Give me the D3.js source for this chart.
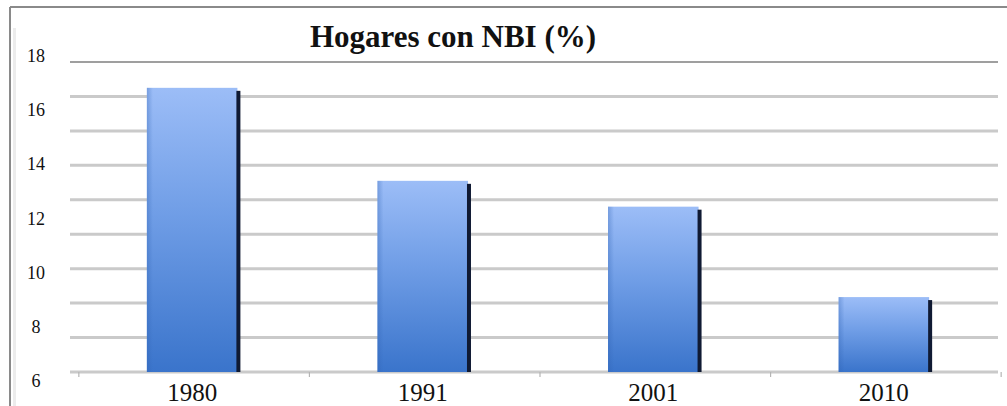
<!DOCTYPE html>
<html>
<head>
<meta charset="utf-8">
<script src="https://cdn.jsdelivr.net/npm/d3@7"></script>
<style>
  html, body { margin: 0; padding: 0; background: #fff; }
  svg { display: block; }
</style>
</head>
<body>
<svg id="chart" width="1007" height="406"></svg>
<script>
// Household share with unmet basic needs, by census year
const title = "Hogares con NBI (%)";
const categories = ["1980", "1991", "2001", "2010"];
const values = [17.0, 13.4, 12.4, 8.9];
const yTickLabels = [6, 8, 10, 12, 14, 16, 18];
const gridDivisions = 9;

const svg = d3.select("#chart");
const W = 1007, H = 406;
const plot = { left: 70, right: 998, top: 62, bottom: 372 };

const y = d3.scaleLinear().domain([6, 18]).range([plot.bottom, plot.top]);
const yLabel = y.copy().range([387, 62]);
const x = d3.scaleBand().domain(categories).range([80, 1000])
  .paddingInner(0.59).paddingOuter(0.29);

// gradient fill for the columns
const defs = svg.append("defs");
const grad = defs.append("linearGradient").attr("id", "barGrad")
  .attr("x1", 0).attr("y1", 0).attr("x2", 0).attr("y2", 1);
grad.append("stop").attr("offset", "0%").attr("stop-color", "#9cbdf7");
grad.append("stop").attr("offset", "45%").attr("stop-color", "#6f9de6");
grad.append("stop").attr("offset", "100%").attr("stop-color", "#3a74cb");
const edge = defs.append("linearGradient").attr("id", "leftEdge")
  .attr("x1", 0).attr("y1", 0).attr("x2", 1).attr("y2", 0);
edge.append("stop").attr("offset", "0%").attr("stop-color", "#2f62b3").attr("stop-opacity", 0.35);
edge.append("stop").attr("offset", "100%").attr("stop-color", "#2f62b3").attr("stop-opacity", 0);

// frame
svg.append("line").attr("x1", 10).attr("x2", W).attr("y1", 7).attr("y2", 7)
  .attr("stroke", "#8a8a8a").attr("stroke-width", 2);
svg.append("line").attr("x1", 10).attr("x2", 10).attr("y1", 7).attr("y2", H)
  .attr("stroke", "#8a8a8a").attr("stroke-width", 2);
svg.append("line").attr("x1", 14.5).attr("x2", 14.5).attr("y1", 28).attr("y2", H)
  .attr("stroke", "#ececec").attr("stroke-width", 3);

// title
svg.append("text")
  .attr("x", 453).attr("y", 47)
  .attr("text-anchor", "middle")
  .attr("font-family", "Liberation Serif, serif")
  .attr("font-weight", "bold")
  .attr("font-size", 31)
  .attr("fill", "#111")
  .text(title);

// horizontal gridlines
const gridVals = d3.range(gridDivisions + 1).map(i => 6 + i * (12 / gridDivisions));
svg.append("g").selectAll("line").data(gridVals).join("line")
  .attr("x1", plot.left).attr("x2", plot.right)
  .attr("y1", d => y(d)).attr("y2", d => y(d))
  .attr("stroke", (d, i) => i === gridDivisions ? "#7f7f7f" : "#cacaca")
  .attr("stroke-width", (d, i) => i === gridDivisions ? 1.5 : 3);

// small category separators under the baseline
const step = x.step();
const sepX = [x(categories[0]) - (step - x.bandwidth()) / 2]
  .concat(categories.map(c => x(c) + x.bandwidth() + (step - x.bandwidth()) / 2));
svg.append("g").selectAll("line").data(sepX).join("line")
  .attr("x1", d => d).attr("x2", d => d)
  .attr("y1", plot.bottom).attr("y2", plot.bottom + 5)
  .attr("stroke", "#b5b5b5").attr("stroke-width", 1.2);

// columns
const bars = svg.append("g").selectAll("g").data(categories).join("g");
bars.append("rect")
  .attr("x", d => x(d))
  .attr("y", (d, i) => y(values[i]))
  .attr("width", x.bandwidth() - 4)
  .attr("height", (d, i) => y(6) - y(values[i]))
  .attr("fill", "url(#barGrad)");
bars.append("rect")
  .attr("x", d => x(d))
  .attr("y", (d, i) => y(values[i]))
  .attr("width", 6)
  .attr("height", (d, i) => y(6) - y(values[i]))
  .attr("fill", "url(#leftEdge)");
bars.append("rect")
  .attr("x", d => x(d) + x.bandwidth() - 5)
  .attr("y", (d, i) => y(values[i]) + 3)
  .attr("width", 4)
  .attr("height", (d, i) => y(6) - y(values[i]) - 3)
  .attr("fill", "#101a33");

// value axis labels
svg.append("g").selectAll("text").data(yTickLabels).join("text")
  .attr("x", 36).attr("y", d => yLabel(d))
  .attr("text-anchor", "middle")
  .attr("font-family", "Liberation Serif, serif")
  .attr("font-size", 18)
  .attr("fill", "#111")
  .text(d => d);

// category labels
svg.append("g").selectAll("text").data(categories).join("text")
  .attr("x", d => x(d) + x.bandwidth() / 2 - 2)
  .attr("y", 401)
  .attr("text-anchor", "middle")
  .attr("font-family", "Liberation Serif, serif")
  .attr("font-size", 25)
  .attr("fill", "#111")
  .text(d => d);
</script>
</body>
</html>
